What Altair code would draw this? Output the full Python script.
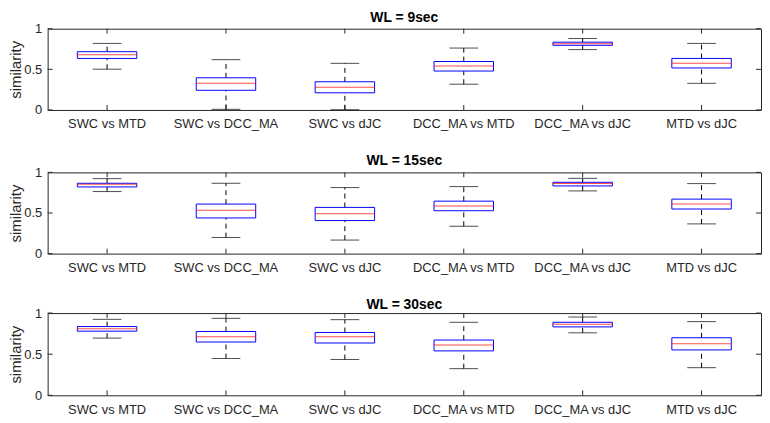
import altair as alt
import pandas as pd

categories = ["SWC vs MTD", "SWC vs DCC_MA", "SWC vs dJC",
              "DCC_MA vs MTD", "DCC_MA vs dJC", "MTD vs dJC"]
panel_titles = ["WL = 9sec", "WL = 15sec", "WL = 30sec"]

# WL = 9sec
wl9_lo  = [0.502, 0.008, 0.003, 0.317, 0.743, 0.328]
wl9_q1  = [0.634, 0.242, 0.211, 0.479, 0.796, 0.517]
wl9_med = [0.679, 0.328, 0.279, 0.540, 0.815, 0.574]
wl9_q3  = [0.717, 0.396, 0.347, 0.596, 0.834, 0.634]
wl9_hi  = [0.819, 0.619, 0.574, 0.762, 0.879, 0.819]

# WL = 15sec
wl15_lo  = [0.764, 0.199, 0.167, 0.337, 0.772, 0.366]
wl15_q1  = [0.821, 0.439, 0.407, 0.528, 0.833, 0.549]
wl15_med = [0.854, 0.533, 0.492, 0.585, 0.862, 0.610]
wl15_q3  = [0.866, 0.610, 0.569, 0.646, 0.878, 0.671]
wl15_hi  = [0.923, 0.866, 0.813, 0.825, 0.927, 0.862]

# WL = 30sec
wl30_lo  = [0.696, 0.448, 0.436, 0.324, 0.760, 0.336]
wl30_q1  = [0.780, 0.648, 0.636, 0.540, 0.832, 0.552]
wl30_med = [0.808, 0.712, 0.712, 0.612, 0.864, 0.628]
wl30_q3  = [0.836, 0.776, 0.764, 0.672, 0.888, 0.700]
wl30_hi  = [0.924, 0.936, 0.920, 0.888, 0.952, 0.896]

y_ticks = [0, 0.5, 1]

stats = [
    (wl9_lo, wl9_q1, wl9_med, wl9_q3, wl9_hi),
    (wl15_lo, wl15_q1, wl15_med, wl15_q3, wl15_hi),
    (wl30_lo, wl30_q1, wl30_med, wl30_q3, wl30_hi),
]

W = 720
heights = [82, 82, 83]
title_offsets = [-2, -2, -5]
FONT = "Liberation Sans"
FRAME = "#262626"


def panel(title, s, h, toff):
    lo, q1, med, q3, hi = s
    df = pd.DataFrame({"cat": categories, "lo": lo, "q1": q1, "med": med,
                       "q3": q3, "hi": hi})
    xenc = alt.X("cat:N", sort=categories, title=None,
                 scale=alt.Scale(paddingInner=0, paddingOuter=0),
                 axis=alt.Axis(labelAngle=0, labelPadding=8, ticks=False,
                               domain=False, labelFontSize=13))
    yscale = alt.Scale(domain=[0, 1], nice=False, zero=True)
    base = alt.Chart(df).encode(x=xenc)
    yax = alt.Axis(values=y_ticks, format="~g", ticks=False, domain=False,
                   labelPadding=6, titlePadding=0, titleFontSize=15,
                   titleFontWeight="normal", titleColor=FRAME)
    whisk_up = base.mark_rule(color="black", strokeDash=[5, 4], strokeWidth=1).encode(
        y=alt.Y("q3:Q", scale=yscale, axis=yax, title="similarity"), y2="hi:Q")
    whisk_lo = base.mark_rule(color="black", strokeDash=[5, 4], strokeWidth=1).encode(
        y="lo:Q", y2="q1:Q")
    cap_hi = base.mark_tick(color="black", size=29, thickness=1).encode(y="hi:Q")
    cap_lo = base.mark_tick(color="black", size=29, thickness=1).encode(y="lo:Q")
    box = base.mark_bar(width=alt.RelativeBandSize(0.5), fill="white", fillOpacity=0,
                        stroke="#0000ff", strokeWidth=1).encode(y="q1:Q", y2="q3:Q")
    median = base.mark_tick(color="#ff0000", size=60, thickness=1).encode(y="med:Q")
    xt_top = base.mark_rule(color=FRAME).encode(y=alt.value(0), y2=alt.value(5))
    xt_bot = base.mark_rule(color=FRAME).encode(y=alt.value(h - 5), y2=alt.value(h))
    ydf = pd.DataFrame({"v": y_ticks})
    yt_l = alt.Chart(ydf).mark_rule(color=FRAME).encode(
        y="v:Q", x=alt.value(0), x2=alt.value(5))
    yt_r = alt.Chart(ydf).mark_rule(color=FRAME).encode(
        y="v:Q", x=alt.value(W - 5), x2=alt.value(W))
    return alt.layer(whisk_up, whisk_lo, cap_hi, cap_lo, box, median,
                     xt_top, xt_bot, yt_l, yt_r).properties(
        width=W, height=h,
        title=alt.TitleParams(title, fontSize=14, fontWeight="bold", font=FONT,
                              color="black", anchor="middle", offset=toff))


chart = alt.vconcat(
    *[panel(t, s, h, o) for t, s, h, o in zip(panel_titles, stats, heights, title_offsets)],
    spacing=22,
).properties(
    padding={"left": 0, "top": 0, "right": 0, "bottom": 0},
    background="white",
).configure_view(
    stroke=FRAME, strokeWidth=1
).configure_axis(
    grid=False, labelFont=FONT, titleFont=FONT, labelFontSize=13,
    labelColor=FRAME,
)

chart.save("out.html", embed_options={"renderer": "svg", "actions": False})
